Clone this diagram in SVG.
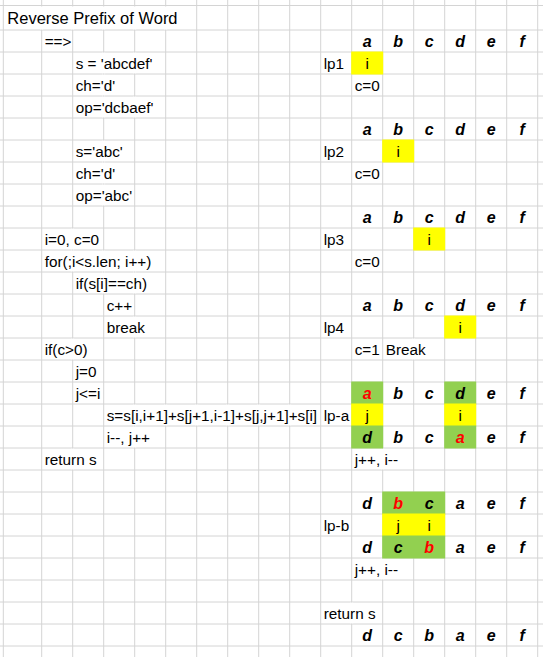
<svg xmlns="http://www.w3.org/2000/svg" width="543" height="657" viewBox="0 0 543 657">
<style>
.g{stroke:#d4d4d4;stroke-width:1;fill:none}
.m{fill:#fff}
.y{fill:#ffff00}
.gr{fill:#92d050}
text{font-family:"Liberation Sans",Arial,sans-serif;font-size:15.3px;fill:#000}
.h{font-weight:bold;font-style:italic;font-size:16px;text-anchor:middle}
.r{fill:#ff0000}
.c{text-anchor:middle}
.t{font-size:16.5px}
</style>
<rect width="543" height="657" fill="#fff"/>
<g id="grid">
<path class="g" d="M3.3 0V657M41.7 0V657M72.7 0V657M103.7 0V657M134.7 0V657M165.7 0V657M196.7 0V657M227.7 0V657M258.7 0V657M289.7 0V657M320.7 0V657M351.7 0V657M382.7 0V657M413.7 0V657M444.7 0V657M475.7 0V657M506.7 0V657M537.7 0V657"/>
<path class="g" d="M0 5.5H543M0 30H543M0 52H543M0 74H543M0 96H543M0 118H543M0 140H543M0 162H543M0 184H543M0 206H543M0 228H543M0 250H543M0 272H543M0 294H543M0 316H543M0 338H543M0 360H543M0 382H543M0 404H543M0 426H543M0 448H543M0 470H543M0 492H543M0 514H543M0 536H543M0 558H543M0 580H543M0 602H543M0 624H543M0 646H543"/>
</g>
<g id="overflow-masks">
<rect class="m" x="40.2" y="6.5" width="3" height="23"/>
<rect class="m" x="71.2" y="6.5" width="3" height="23"/>
<rect class="m" x="102.2" y="6.5" width="3" height="23"/>
<rect class="m" x="133.2" y="6.5" width="3" height="23"/>
<rect class="m" x="164.2" y="6.5" width="3" height="23"/>
<rect class="m" x="102.2" y="52.6" width="3" height="20.8"/>
<rect class="m" x="133.2" y="52.6" width="3" height="20.8"/>
<rect class="m" x="102.2" y="74.6" width="3" height="20.8"/>
<rect class="m" x="102.2" y="96.6" width="3" height="20.8"/>
<rect class="m" x="133.2" y="96.6" width="3" height="20.8"/>
<rect class="m" x="102.2" y="140.6" width="3" height="20.8"/>
<rect class="m" x="102.2" y="162.6" width="3" height="20.8"/>
<rect class="m" x="102.2" y="184.6" width="3" height="20.8"/>
<rect class="m" x="71.2" y="228.6" width="3" height="20.8"/>
<rect class="m" x="71.2" y="250.6" width="3" height="20.8"/>
<rect class="m" x="102.2" y="250.6" width="3" height="20.8"/>
<rect class="m" x="133.2" y="250.6" width="3" height="20.8"/>
<rect class="m" x="102.2" y="272.6" width="3" height="20.8"/>
<rect class="m" x="133.2" y="272.6" width="3" height="20.8"/>
<rect class="m" x="133.2" y="316.6" width="3" height="20.8"/>
<rect class="m" x="71.2" y="338.6" width="3" height="20.8"/>
<rect class="m" x="412.2" y="338.6" width="3" height="20.8"/>
<rect class="m" x="133.2" y="404.6" width="3" height="20.8"/>
<rect class="m" x="164.2" y="404.6" width="3" height="20.8"/>
<rect class="m" x="195.2" y="404.6" width="3" height="20.8"/>
<rect class="m" x="226.2" y="404.6" width="3" height="20.8"/>
<rect class="m" x="257.2" y="404.6" width="3" height="20.8"/>
<rect class="m" x="288.2" y="404.6" width="3" height="20.8"/>
<rect class="m" x="133.2" y="426.6" width="3" height="20.8"/>
<rect class="m" x="71.2" y="448.6" width="3" height="20.8"/>
<rect class="m" x="381.2" y="448.6" width="3" height="20.8"/>
<rect class="m" x="381.2" y="558.6" width="3" height="20.8"/>
<rect class="m" x="350.2" y="602.6" width="3" height="20.8"/>
</g>
<g id="fills">
<rect class="y" x="351.2" y="51.5" width="32" height="23"/>
<rect class="y" x="382.2" y="139.5" width="32" height="23"/>
<rect class="y" x="413.2" y="227.5" width="32" height="23"/>
<rect class="y" x="444.2" y="315.5" width="32" height="23"/>
<rect class="gr" x="351.2" y="381.5" width="32" height="23"/>
<rect class="gr" x="444.2" y="381.5" width="32" height="23"/>
<rect class="y" x="351.2" y="403.5" width="32" height="23"/>
<rect class="y" x="444.2" y="403.5" width="32" height="23"/>
<rect class="gr" x="351.2" y="425.5" width="32" height="23"/>
<rect class="gr" x="444.2" y="425.5" width="32" height="23"/>
<rect class="gr" x="382.2" y="491.5" width="63" height="23"/>
<rect class="y" x="382.2" y="513.5" width="63" height="23"/>
<rect class="gr" x="382.2" y="535.5" width="63" height="23"/>
</g>
<g id="title"><text class="t" x="7.3" y="24">Reverse Prefix of Word</text></g>
<g id="code">
<text x="44.7" y="47">==&gt;</text>
<text x="75.7" y="69">s = 'abcdef'</text>
<text x="75.7" y="91">ch='d'</text>
<text x="75.7" y="113">op='dcbaef'</text>
<text x="75.7" y="157">s='abc'</text>
<text x="75.7" y="179">ch='d'</text>
<text x="75.7" y="201">op='abc'</text>
<text x="44.7" y="245">i=0, c=0</text>
<text x="44.7" y="267">for(;i&lt;s.len; i++)</text>
<text x="75.7" y="289">if(s[i]==ch)</text>
<text x="106.7" y="311">c++</text>
<text x="106.7" y="333">break</text>
<text x="44.7" y="355">if(c&gt;0)</text>
<text x="75.7" y="377">j=0</text>
<text x="75.7" y="399">j&lt;=i</text>
<text x="106.7" y="421">s=s[i,i+1]+s[j+1,i-1]+s[j,j+1]+s[i]</text>
<text x="106.7" y="443">i--, j++</text>
<text x="44.7" y="465">return s</text>
</g>
<g id="lp1">
<text class="h" x="367.2" y="47">a</text><text class="h" x="398.2" y="47">b</text><text class="h" x="429.2" y="47">c</text><text class="h" x="460.2" y="47">d</text><text class="h" x="491.2" y="47">e</text><text class="h" x="522.2" y="47">f</text>
<text x="323.7" y="69">lp1</text>
<text class="c" x="367.2" y="69">i</text>
<text x="354.7" y="91">c=0</text>
</g>
<g id="lp2">
<text class="h" x="367.2" y="135">a</text><text class="h" x="398.2" y="135">b</text><text class="h" x="429.2" y="135">c</text><text class="h" x="460.2" y="135">d</text><text class="h" x="491.2" y="135">e</text><text class="h" x="522.2" y="135">f</text>
<text x="323.7" y="157">lp2</text>
<text class="c" x="398.2" y="157">i</text>
<text x="354.7" y="179">c=0</text>
</g>
<g id="lp3">
<text class="h" x="367.2" y="223">a</text><text class="h" x="398.2" y="223">b</text><text class="h" x="429.2" y="223">c</text><text class="h" x="460.2" y="223">d</text><text class="h" x="491.2" y="223">e</text><text class="h" x="522.2" y="223">f</text>
<text x="323.7" y="245">lp3</text>
<text class="c" x="429.2" y="245">i</text>
<text x="354.7" y="267">c=0</text>
</g>
<g id="lp4">
<text class="h" x="367.2" y="311">a</text><text class="h" x="398.2" y="311">b</text><text class="h" x="429.2" y="311">c</text><text class="h" x="460.2" y="311">d</text><text class="h" x="491.2" y="311">e</text><text class="h" x="522.2" y="311">f</text>
<text x="323.7" y="333">lp4</text>
<text class="c" x="460.2" y="333">i</text>
<text x="354.7" y="355">c=1</text>
<text x="385.7" y="355">Break</text>
</g>
<g id="lp-a">
<text class="h r" x="367.2" y="399">a</text><text class="h" x="398.2" y="399">b</text><text class="h" x="429.2" y="399">c</text><text class="h" x="460.2" y="399">d</text><text class="h" x="491.2" y="399">e</text><text class="h" x="522.2" y="399">f</text>
<text x="323.7" y="421">lp-a</text>
<text class="c" x="367.2" y="421">j</text>
<text class="c" x="460.2" y="421">i</text>
<text class="h" x="367.2" y="443">d</text><text class="h" x="398.2" y="443">b</text><text class="h" x="429.2" y="443">c</text><text class="h r" x="460.2" y="443">a</text><text class="h" x="491.2" y="443">e</text><text class="h" x="522.2" y="443">f</text>
<text x="354.7" y="465">j++, i--</text>
</g>
<g id="lp-b">
<text class="h" x="367.2" y="509">d</text><text class="h r" x="398.2" y="509">b</text><text class="h" x="429.2" y="509">c</text><text class="h" x="460.2" y="509">a</text><text class="h" x="491.2" y="509">e</text><text class="h" x="522.2" y="509">f</text>
<text x="323.7" y="531">lp-b</text>
<text class="c" x="398.2" y="531">j</text>
<text class="c" x="429.2" y="531">i</text>
<text class="h" x="367.2" y="553">d</text><text class="h" x="398.2" y="553">c</text><text class="h r" x="429.2" y="553">b</text><text class="h" x="460.2" y="553">a</text><text class="h" x="491.2" y="553">e</text><text class="h" x="522.2" y="553">f</text>
<text x="354.7" y="575">j++, i--</text>
</g>
<g id="result">
<text x="323.7" y="619">return s</text>
<text class="h" x="367.2" y="641">d</text><text class="h" x="398.2" y="641">c</text><text class="h" x="429.2" y="641">b</text><text class="h" x="460.2" y="641">a</text><text class="h" x="491.2" y="641">e</text><text class="h" x="522.2" y="641">f</text>
</g>
<g id="connectors"/>
</svg>
